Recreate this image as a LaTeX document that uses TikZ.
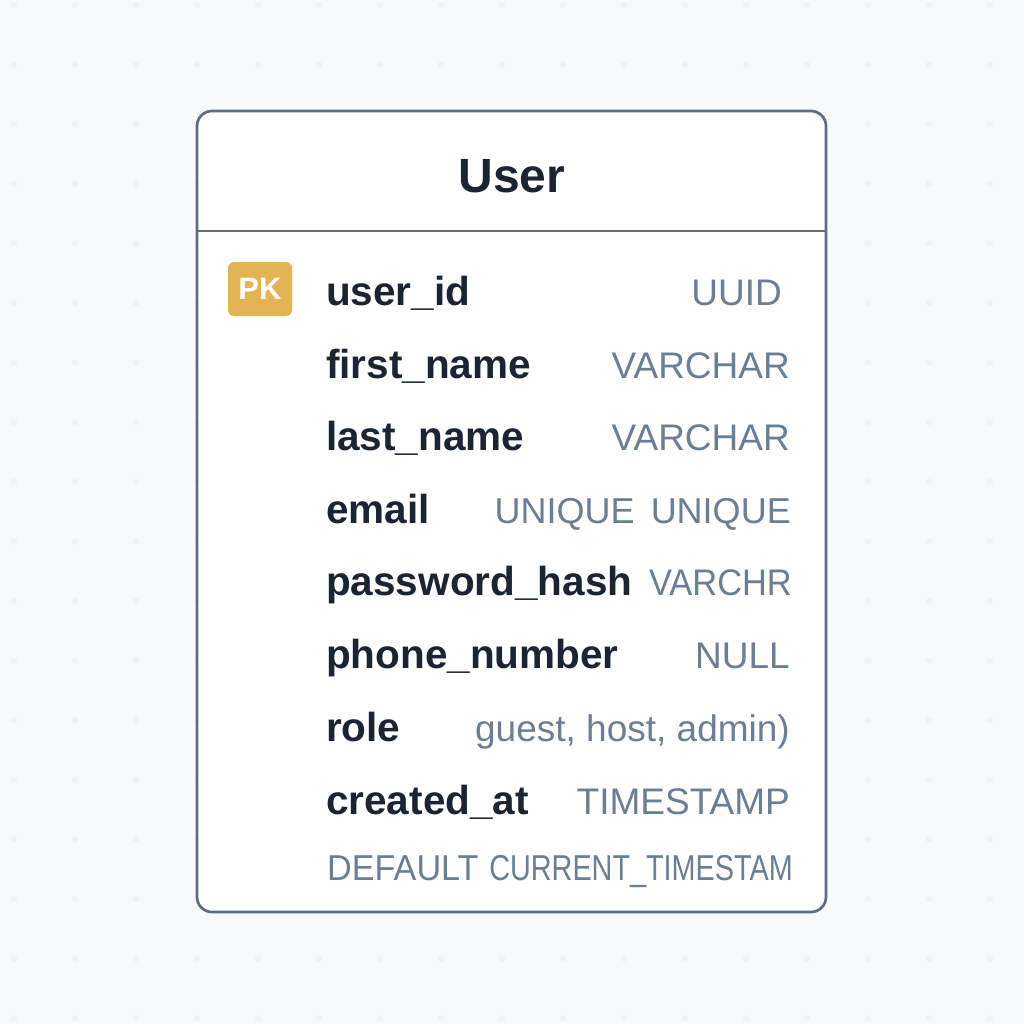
\documentclass[tikz,border=0pt]{standalone}
\usepackage{fontspec}
\setmainfont{Liberation Sans}
\usepackage{graphicx}
\definecolor{bgc}{HTML}{F8F9FB}
\definecolor{dotc}{HTML}{F0F2F5}
\definecolor{borderc}{HTML}{5F6B82}
\definecolor{namec}{HTML}{1A2433}
\definecolor{typec}{HTML}{6A7F95}
\definecolor{pkc}{HTML}{E3B454}
\tikzset{
  fname/.style={anchor=base west, inner sep=0pt, text=namec, font=\fontsize{40.5}{48}\selectfont\bfseries},
  ftype/.style={anchor=base east, inner sep=0pt, text=typec, font=\fontsize{37}{44}\selectfont},
  card/.style={draw=borderc, fill=white, line width=2.7pt, rounded corners=15pt},
}
\begin{document}
\begin{tikzpicture}[x=1pt,y=-1pt]
\fill[bgc] (0,0) rectangle (1024,1024);
\useasboundingbox (0,0) rectangle (1024,1024);
\foreach \i in {0,...,16} \foreach \j in {0,...,17} \fill[dotc] (14+61*\i, 5+59.6*\j) circle (3.2);
\draw[card] (197,111) rectangle (826,912);
\coordinate (sepL) at (197,231);
\coordinate (sepR) at (826,231);
\draw[borderc, line width=2.7pt] (sepL) -- (sepR);
\node[anchor=base, inner sep=0pt, text=namec, font=\fontsize{48}{56}\selectfont\bfseries] (title) at (512,193) {User};
% PK badge
\node[fill=pkc, rounded corners=6pt, minimum width=64pt, minimum height=54pt, inner sep=0pt, text=white, font=\fontsize{31}{36}\selectfont\bfseries] (pk) at (260,289) {PK};
% fields
\node[fname] (n1) at (326,305) {user\_id};
\node[ftype] (t1) at (782,305) {UUID};
\node[fname] (n2) at (326,378) {first\_name};
\node[ftype] (t2) at (790,378) {VARCHAR};
\node[fname] (n3) at (326,450) {last\_name};
\node[ftype] (t3) at (790,450) {VARCHAR};
\node[fname] (n4) at (326,523) {email};
\node[ftype, font=\fontsize{36}{43}\selectfont] (t4) at (791,523) {UNIQUE\hspace{0.45em}UNIQUE};
\node[fname] (n5) at (326,595) {password\_hash};
\node[ftype] (t5) at (792,595) {\scalebox{0.93}[1]{VARCHR}};
\node[fname] (n6) at (326,668) {phone\_number};
\node[ftype] (t6) at (790,668) {NULL};
\node[fname] (n7) at (326,741) {role};
\node[ftype] (t7) at (790,741) {guest, host, admin)};
\node[fname] (n8) at (326,814) {created\_at};
\node[ftype] (t8) at (790,814) {TIMESTAMP};
\node[anchor=base west, inner sep=0pt, text=typec, font=\fontsize{36}{43}\selectfont] (d1) at (327,880) {\scalebox{0.95}[1]{DEFAULT}};
\node[anchor=base east, inner sep=0pt, text=typec, font=\fontsize{36}{43}\selectfont] (d2) at (793,880) {\scalebox{0.8}[1]{CURRENT\_TIMESTAM}};
\end{tikzpicture}
\end{document}
